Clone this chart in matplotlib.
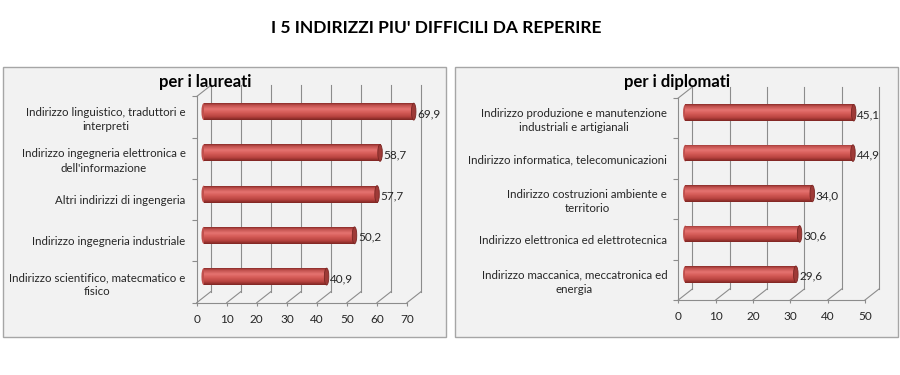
import matplotlib
matplotlib.use("Agg")
import matplotlib.pyplot as plt
import numpy as np
from matplotlib.patches import Rectangle, Ellipse
from matplotlib.colors import LinearSegmentedColormap

plt.rcParams['font.family'] = ['Lato', 'DejaVu Sans']

title = "I 5 INDIRIZZI PIU' DIFFICILI DA REPERIRE"

laureati_title = "per i laureati"
laureati_labels = [
    "Indirizzo linguistico, traduttori e\ninterpreti",
    "Indirizzo ingegneria elettronica e\ndell'informazione",
    "Altri indirizzi di ingengeria",
    "Indirizzo ingegneria industriale",
    "Indirizzo scientifico, matecmatico e\nfisico",
]
laureati_values = [69.9, 58.7, 57.7, 50.2, 40.9]
laureati_ticks = [0, 10, 20, 30, 40, 50, 60, 70]

diplomati_title = "per i diplomati"
diplomati_labels = [
    "Indirizzo produzione e manutenzione\nindustriali e artigianali",
    "Indirizzo informatica, telecomunicazioni",
    "Indirizzo costruzioni ambiente e\nterritorio",
    "Indirizzo elettronica ed elettrotecnica",
    "Indirizzo maccanica, meccatronica ed\nenergia",
]
diplomati_values = [45.1, 44.9, 34.0, 30.6, 29.6]
diplomati_ticks = [0, 10, 20, 30, 40, 50]

W, H = 900, 375
fig = plt.figure(figsize=(9, 3.75), dpi=100)
fig.patch.set_facecolor('white')

GRID = '#8c8c8c'
cyl = LinearSegmentedColormap.from_list('cyl', [
    (0.0, '#8a2c29'), (0.12, '#c0504d'), (0.35, '#e57370'),
    (0.55, '#d65c58'), (0.8, '#b8433f'), (1.0, '#7d2522')])


def panel(box, front, labels, values, ticks, sub, sub_xy):
    bx0, by0, bx1, by1 = box
    fig.patches.append(Rectangle((bx0 / W, 1 - by1 / H), (bx1 - bx0) / W, (by1 - by0) / H,
                                 transform=fig.transFigure, facecolor='#f2f2f2',
                                 edgecolor='#a6a6a6', lw=1.0, zorder=-5))
    fig.text(sub_xy[0] / W, 1 - sub_xy[1] / H, sub, ha='center', va='center',
             fontsize=12, fontweight='bold', color='black')
    L, R, T, B = front
    xmax = ticks[-1]
    ax = fig.add_axes([L / W, 1 - B / H, (R - L) / W, (B - T) / H])
    ax.set_xlim(0, xmax)
    ax.set_ylim(-0.5, 4.5)
    ax.patch.set_alpha(0)
    for s in ax.spines.values():
        s.set_visible(False)
    n = len(values)
    ypos = np.arange(n)[::-1]
    ddx = 14 / ((R - L) / xmax)
    ddy = 11 / ((B - T) / 5)
    # walls / grid
    ax.plot([0, 0], [-0.5, 4.5], color=GRID, lw=0.8, clip_on=False)
    ax.plot([0, xmax], [-0.5, -0.5], color=GRID, lw=0.8, clip_on=False)
    ax.plot([0, ddx], [4.5, 4.5 + ddy], color=GRID, lw=0.8, clip_on=False)
    for t in ticks:
        ax.plot([t, t + ddx], [-0.5, -0.5 + ddy], color=GRID, lw=0.8, clip_on=False)
        ax.plot([t + ddx, t + ddx], [-0.5 + ddy, 4.5 + ddy], color=GRID, lw=0.8, clip_on=False)
    # ticks
    ax.set_xticks(ticks)
    ax.set_xticklabels([str(t) for t in ticks], fontsize=8.5, color='#262626')
    ax.tick_params(axis='x', length=2.5, width=0.8, color=GRID, pad=5.5)
    ax.set_yticks(ypos)
    ax.set_yticklabels(labels, fontsize=8.3, color='#262626', linespacing=1.35)
    for lbl in ax.get_yticklabels():
        lbl.set_multialignment('center')
    ax.tick_params(axis='y', length=0, pad=8)
    ax.set_yticks(np.arange(-0.5, 5.0, 1.0), minor=True)
    ax.tick_params(axis='y', which='minor', length=3.5, width=0.8, color=GRID)
    # bars at mid depth
    h = 0.41
    bars = ax.barh(ypos + ddy / 2, values, left=ddx / 2, height=h,
                   color='#c0504d', edgecolor='none', zorder=3, clip_on=False)
    capw = 4.5 / ((R - L) / xmax)
    grad = np.linspace(0, 1, 64).reshape(-1, 1)
    for b, v, y in zip(bars, values, ypos):
        x0 = ddx / 2
        yc = y + ddy / 2
        im = ax.imshow(grad, cmap=cyl, aspect='auto', zorder=4,
                       extent=(x0, x0 + v, yc - h / 2, yc + h / 2), origin='upper',
                       interpolation='bilinear')
        im.set_clip_path(b)
        ax.add_patch(Ellipse((x0, yc), capw, h, facecolor='#c0504d',
                             edgecolor='none', zorder=2, clip_on=False))
        ax.add_patch(Ellipse((x0 + v, yc), capw, h, facecolor='#9e3a37',
                             edgecolor='#7a2623', lw=0.6, zorder=5, clip_on=False))
        ax.annotate(f"{v:.1f}".replace('.', ','), (x0 + v, yc),
                    xytext=(3.5, -2), textcoords='offset pixels',
                    ha='left', va='center', fontsize=8.5, color='#262626',
                    annotation_clip=False, zorder=6)
    ax.set_xlim(0, xmax)
    ax.set_ylim(-0.5, 4.5)
    return ax


panel((3, 67, 446, 337), (196.7, 407.0, 96.5, 302.7),
      laureati_labels, laureati_values, laureati_ticks, laureati_title, (205, 82))
panel((455, 67, 898, 337), (678.3, 865.0, 98.0, 300.0),
      diplomati_labels, diplomati_values, diplomati_ticks, diplomati_title, (677, 82))

fig.text(436 / W, 1 - 28 / H, title, ha='center', va='center',
         fontsize=12.5, fontweight='bold', color='black')

fig.savefig('out.png', dpi=100)
